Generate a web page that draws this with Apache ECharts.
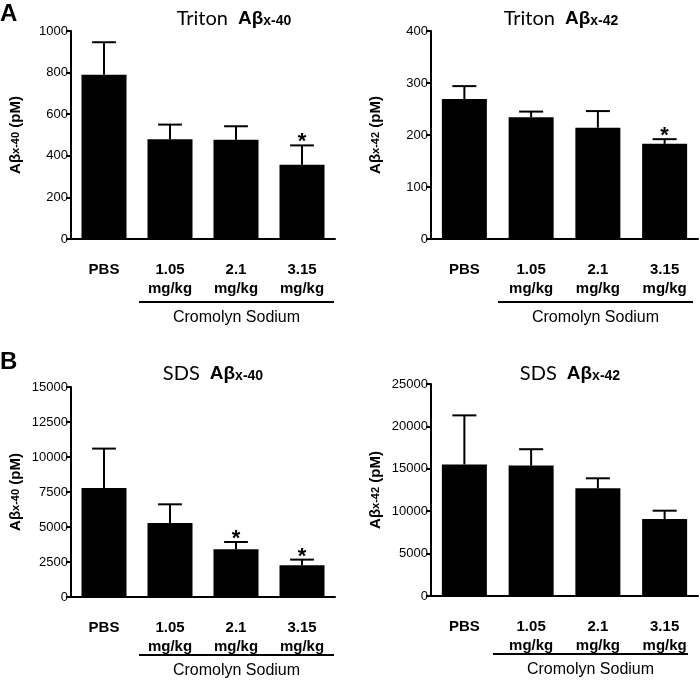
<!DOCTYPE html>
<html>
<head>
<meta charset="utf-8">
<script src="https://cdn.jsdelivr.net/npm/echarts@6/dist/echarts.min.js"></script>
<style>
  html, body { margin: 0; padding: 0; background: #fff; }
  #chart { width: 700px; height: 680px; }
</style>
</head>
<body>
<div id="chart"></div>
<script>
const categories = ["PBS", "1.05\nmg/kg", "2.1\nmg/kg", "3.15\nmg/kg"];

// Triton A-beta x-40
const tritonA40 = [790, 479, 477, 357];
const tritonA40Err = [156, 71, 65, 93];
const tritonA40Sig = [0, 0, 0, 1];
// Triton A-beta x-42
const tritonA42 = [269, 234, 214, 183];
const tritonA42Err = [25, 11, 32, 9];
const tritonA42Sig = [0, 0, 0, 1];
// SDS A-beta x-40
const sdsA40 = [7790, 5290, 3410, 2260];
const sdsA40Err = [2810, 1330, 520, 410];
const sdsA40Sig = [0, 0, 1, 1];
// SDS A-beta x-42
const sdsA42 = [15500, 15380, 12700, 9070];
const sdsA42Err = [5800, 1930, 1180, 990];
const sdsA42Sig = [0, 0, 0, 0];

const yMax = [1000, 400, 15000, 25000];
const yStep = [200, 100, 2500, 5000];
const yNames = ["x-40", "x-42", "x-40", "x-42"];

const grids = [
  { left: 71, top: 31, width: 264, height: 208 },
  { left: 431, top: 31, width: 267, height: 208 },
  { left: 71, top: 387, width: 264, height: 210 },
  { left: 431, top: 384, width: 267, height: 212 },
];

const panels = [
  [tritonA40, tritonA40Err, tritonA40Sig],
  [tritonA42, tritonA42Err, tritonA42Sig],
  [sdsA40, sdsA40Err, sdsA40Sig],
  [sdsA42, sdsA42Err, sdsA42Sig],
];

const titleRich = {
  t: { fontFamily: "Lato", fontWeight: "normal", fontSize: 20, color: "#000" },
  b: { fontFamily: "Liberation Sans", fontWeight: "bold", fontSize: 19, color: "#000" },
  s: { fontFamily: "Liberation Sans", fontWeight: "bold", fontSize: 14, color: "#000", padding: [5, 0, 0, 0] },
};

const makeTitle = (x, y, word, sub) => ({
  left: x,
  top: y,
  textAlign: "center",
  text: "{t|" + word + "}  {b|Aβ}{s|" + sub + "}",
  textStyle: { fontWeight: "normal", rich: titleRich },
});

const xAxes = grids.map((g, i) => ({
  type: "category",
  gridIndex: i,
  data: categories,
  axisLine: { lineStyle: { color: "#000", width: 2 } },
  axisTick: { alignWithLabel: true, length: 8, lineStyle: { color: "#000", width: 2 } },
  axisLabel: {
    color: "#000",
    fontFamily: "Liberation Sans",
    fontWeight: "bold",
    fontSize: 15,
    lineHeight: 19,
    margin: 21,
    interval: 0,
  },
}));

const yAxes = grids.map((g, i) => ({
  type: "value",
  gridIndex: i,
  min: 0,
  max: yMax[i],
  interval: yStep[i],
  splitLine: { show: false },
  axisLine: { show: true, lineStyle: { color: "#000", width: 2 } },
  axisTick: { show: true, length: 5, lineStyle: { color: "#000", width: 2 } },
  axisLabel: {
    color: "#000",
    fontFamily: "Liberation Sans",
    fontSize: 13,
    margin: 3,
    formatter: (v) => String(v),
  },
  name: "{a|Aβ}{s|" + yNames[i] + "}{a| (pM)}",
  nameLocation: "middle",
  nameGap: 48,
  nameTextStyle: {
    rich: {
      a: { fontFamily: "Liberation Sans", fontWeight: "bold", fontSize: 15, color: "#000" },
      s: { fontFamily: "Liberation Sans", fontWeight: "bold", fontSize: 11, color: "#000" },
    },
  },
}));

const series = [];
panels.forEach(([vals, errs, sig], i) => {
  series.push({
    type: "bar",
    xAxisIndex: i,
    yAxisIndex: i,
    data: vals,
    barWidth: 45,
    itemStyle: { color: "#000" },
    silent: true,
  });
  series.push({
    type: "custom",
    xAxisIndex: i,
    yAxisIndex: i,
    data: vals.map((v, k) => [k, v, errs[k], sig[k]]),
    renderItem: (params, api) => {
      const base = api.coord([api.value(0), api.value(1)]);
      const top = api.coord([api.value(0), api.value(1) + api.value(2)]);
      const half = api.size([1, 0])[0] * 0.18;
      const style = { stroke: "#000", lineWidth: 2 };
      const children = [
        { type: "line", shape: { x1: base[0], y1: base[1], x2: top[0], y2: top[1] }, style },
        { type: "line", shape: { x1: top[0] - half, y1: top[1], x2: top[0] + half, y2: top[1] }, style },
      ];
      if (api.value(3)) {
        children.push({
          type: "text",
          style: {
            text: "*",
            x: top[0],
            y: top[1] + 8,
            align: "center",
            verticalAlign: "bottom",
            fontSize: 22,
            fontWeight: "bold",
            fontFamily: "Liberation Sans",
            fill: "#000",
          },
        });
      }
      return { type: "group", children };
    },
    z: 3,
  });
});

const bracket = (x1, x2, y) => [
  { type: "line", shape: { x1, y1: y, x2, y2: y }, style: { stroke: "#000", lineWidth: 2 } },
  {
    type: "text",
    x: (x1 + x2) / 2,
    y: y + 8,
    style: {
      text: "Cromolyn Sodium",
      align: "center",
      verticalAlign: "top",
      fontFamily: "Liberation Sans",
      fontSize: 16,
      fill: "#000",
    },
  },
];

const letter = (t, x, y) => ({
  type: "text",
  x,
  y,
  style: { text: t, fontFamily: "Liberation Sans", fontWeight: "bold", fontSize: 24, fill: "#000" },
});

const option = {
  animation: false,
  title: [
    makeTitle(229, 4, "Triton", "x-40"),
    makeTitle(556, 4, "Triton", "x-42"),
    makeTitle(208, 359, "SDS", "x-40"),
    makeTitle(565, 359, "SDS", "x-42"),
  ],
  grid: grids,
  xAxis: xAxes,
  yAxis: yAxes,
  series,
  graphic: [
    letter("A", 0, 2),
    letter("B", 0, 350),
    ...bracket(139, 334, 302),
    ...bracket(498, 693, 302),
    ...bracket(139, 334, 655),
    ...bracket(493, 688, 654),
  ],
};

const myChart = echarts.init(document.getElementById("chart"));
myChart.setOption(option);
</script>
</body>
</html>
